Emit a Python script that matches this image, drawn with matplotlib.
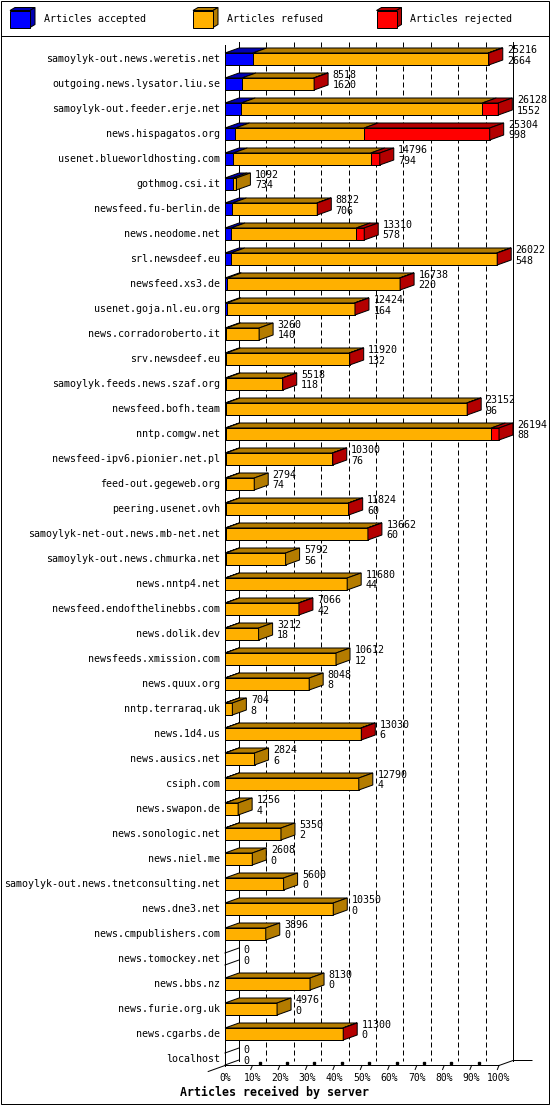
import matplotlib
matplotlib.use("Agg")
import matplotlib.pyplot as plt
from matplotlib.patches import Polygon, Rectangle

# --- data --------------------------------------------------------------------
hosts = [
    "samoylyk-out.news.weretis.net", "outgoing.news.lysator.liu.se",
    "samoylyk-out.feeder.erje.net", "news.hispagatos.org",
    "usenet.blueworldhosting.com", "gothmog.csi.it", "newsfeed.fu-berlin.de",
    "news.neodome.net", "srl.newsdeef.eu", "newsfeed.xs3.de",
    "usenet.goja.nl.eu.org", "news.corradoroberto.it", "srv.newsdeef.eu",
    "samoylyk.feeds.news.szaf.org", "newsfeed.bofh.team", "nntp.comgw.net",
    "newsfeed-ipv6.pionier.net.pl", "feed-out.gegeweb.org", "peering.usenet.ovh",
    "samoylyk-net-out.news.mb-net.net", "samoylyk-out.news.chmurka.net",
    "news.nntp4.net", "newsfeed.endofthelinebbs.com", "news.dolik.dev",
    "newsfeeds.xmission.com", "news.quux.org", "nntp.terraraq.uk", "news.1d4.us",
    "news.ausics.net", "csiph.com", "news.swapon.de", "news.sonologic.net",
    "news.niel.me", "samoylyk-out.news.tnetconsulting.net", "news.dne3.net",
    "news.cmpublishers.com", "news.tomockey.net", "news.bbs.nz",
    "news.furie.org.uk", "news.cgarbs.de", "localhost",
]
offered = [
    25216, 8518, 26128, 25304, 14796, 1092, 8822, 13310, 26022, 16738,
    12424, 3260, 11920, 5518, 23152, 26194, 10300, 2794, 11824, 13662,
    5792, 11680, 7066, 3212, 10612, 8048, 704, 13030, 2824, 12790,
    1256, 5350, 2608, 5600, 10350, 3896, 0, 8130, 4976, 11300, 0,
]
accepted = [
    2664, 1620, 1552, 998, 794, 734, 706, 578, 548, 220,
    164, 140, 132, 118, 96, 88, 76, 74, 60, 60,
    56, 44, 42, 18, 12, 8, 8, 6, 6, 4,
    4, 2, 0, 0, 0, 0, 0, 0, 0, 0, 0,
]
# estimated from the red parts of the bars
rejected = [
    60, 40, 1530, 12000, 860, 0, 40, 760, 40, 40,
    30, 0, 30, 30, 40, 740, 30, 0, 30, 30,
    0, 0, 30, 0, 0, 0, 0, 40, 0, 0,
    0, 0, 0, 0, 0, 0, 0, 0, 0, 30, 0,
]
refused = [o - a - r for o, a, r in zip(offered, accepted, rejected)]

series_names = ["Articles accepted", "Articles refused", "Articles rejected"]
front_colors = ["#0000ff", "#ffb000", "#ff0000"]
dark_colors = ["#0000b4", "#b47c00", "#b40000"]
tick_pcts = [0, 10, 20, 30, 40, 50, 60, 70, 80, 90, 100]

# --- geometry ----------------------------------------------------------------
W, H = 550, 1105
X0, PX = 225, 2.74      # pixel of 0%, pixels per percent
Y0, ROW = 59, 25        # pixel of first row, pixels per row
DX, DY = 14 / PX, 5 / ROW   # 3d depth
HH = 6 / ROW                # half height of bar front
LW = 0.72
FONT = "DejaVu Sans Mono"

fig = plt.figure(figsize=(W / 100, H / 100), dpi=100)
fig.patch.set_facecolor("white")

# frame + legend in pixel coords
lg = fig.add_axes([0, 0, 1, 1])
lg.set_xlim(0, W)
lg.set_ylim(H, 0)
lg.axis("off")
lg.add_patch(Rectangle((0.5, 0.5), 548, 1103.5, fill=False, ec="k", lw=LW))
lg.plot([0.5, 548.5], [36, 36], color="k", lw=LW)
for j, lx in enumerate([10, 193, 376.5]):
    lg.add_patch(Polygon([(lx, 10.5), (lx + 20, 10.5), (lx + 25, 7.5), (lx + 5, 7.5)],
                         fc=dark_colors[j], ec="k", lw=LW))
    lg.add_patch(Polygon([(lx + 20, 10.5), (lx + 20, 27.5), (lx + 25, 24.5), (lx + 25, 7.5)],
                         fc=dark_colors[j], ec="k", lw=LW))
    lg.add_patch(Rectangle((lx, 10.5), 20, 17, fc=front_colors[j], ec="k", lw=LW))
    lg.text(lx + 34, 19.5, series_names[j], family=FONT, fontsize=7.2, va="center")

# chart in percent / row coords
ax = fig.add_axes([0, 0, 1, 1])
ax.set_xlim(-X0 / PX, (W - X0) / PX)
ax.set_ylim((H - Y0) / ROW, -Y0 / ROW)
ax.axis("off")
ax.patch.set_alpha(0)

n = len(hosts)
top = (42 - Y0) / ROW
floor_f = n - 1 + 0.26
floor_b = floor_f - DY

# back wall
ax.plot([DX, DX], [top, floor_b], color="k", lw=LW, zorder=1)
ax.plot([100 + DX, 100 + DX], [top, floor_b], color="k", lw=LW, zorder=1)
for p in tick_pcts[1:-1]:
    ax.plot([p + DX, p + DX], [top, floor_b], color="k", lw=LW,
            linestyle=(0, (5, 3)), zorder=1)
ax.plot([0, 0], [top + 0.12, floor_f], color="k", lw=LW, zorder=1)

# floor
ax.plot([-DX * 1.2, 0, 100, 100 + DX, 100 + DX + 19 / PX],
        [floor_f + DY * 1.2, floor_f, floor_f, floor_b, floor_b],
        color="k", lw=LW, zorder=1)
for p in tick_pcts[1:]:
    ax.plot([p - 0.6, p], [floor_f + 0.16, floor_f], color="k", lw=LW, zorder=1)
    if p < 100:
        ax.plot([p + 2.6], [floor_f - 0.1], "s", color="k", ms=2, zorder=1)
for p in tick_pcts:
    ax.text(p, (1078 - Y0) / ROW, f"{p}%", family=FONT, fontsize=7.0,
            ha="center", va="center")
ax.text((274 - X0) / PX, (1092 - Y0) / ROW, "Articles received by server",
        family=FONT, fontsize=8.4, fontweight="bold", ha="center", va="center")

# bars
scale = max(offered)
for i in range(n):
    vals = [accepted[i], refused[i], rejected[i]]
    yt, yb = i - HH, i + HH
    left = 0.0
    last = None
    for j, v in enumerate(vals):
        if v <= 0:
            continue
        w = v / scale * 100
        right = left + w
        ax.add_patch(Polygon([(left, yt), (right, yt), (right + DX, yt - DY), (left + DX, yt - DY)],
                             fc=dark_colors[j], ec="k", lw=LW, zorder=3))
        ax.add_patch(Rectangle((left, yt), w, yb - yt, fc=front_colors[j],
                               ec="k", lw=LW, zorder=4))
        left = right
        last = j
    if last is not None:
        ax.add_patch(Polygon([(left, yt), (left, yb), (left + DX, yb - DY), (left + DX, yt - DY)],
                             fc=dark_colors[last], ec="k", lw=LW, zorder=4))
    else:
        ax.plot([0, DX], [yt, yt - DY], color="k", lw=LW, zorder=3)
        ax.plot([0, DX], [yb, yb - DY], color="k", lw=LW, zorder=3)

    ax.text(-5 / PX, i, hosts[i], family=FONT, fontsize=7.2, ha="right", va="center")
    tx = left + DX + 4.5 / PX
    ax.text(tx, i - 0.37, str(offered[i]), family=FONT, fontsize=7.2, va="center", zorder=5)
    ax.text(tx, i + 0.06, str(accepted[i]), family=FONT, fontsize=7.2, va="center", zorder=5)

fig.savefig("out.png", dpi=100, facecolor="white")
